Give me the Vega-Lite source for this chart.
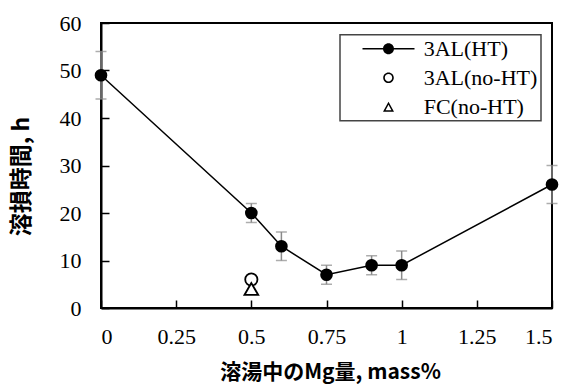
{
  "$schema": "https://vega.github.io/schema/vega-lite/v6.json",
  "width": 451,
  "height": 285,
  "autosize": {"type": "none"},
  "padding": {"left": 101, "top": 23, "right": 17, "bottom": 77},
  "background": "white",
  "config": {
    "view": {"stroke": "black", "strokeWidth": 2},
    "axis": {
      "domainColor": "black", "domainWidth": 2,
      "tickColor": "black", "tickWidth": 1.5, "tickSize": -8,
      "grid": false,
      "labelFont": "Liberation Serif", "labelFontSize": 22, "labelColor": "black",
      "titleFont": "Noto Sans CJK JP", "titleFontWeight": "bold", "titleColor": "black"
    },
    "legend": {"strokeWidth": 1.5}
  },
  "data": {
    "values": [
      {"mg": 0, "h": 49, "lo": 44, "hi": 54, "series": "3AL(HT)"},
      {"mg": 0.5, "h": 20, "lo": 18, "hi": 22, "series": "3AL(HT)"},
      {"mg": 0.6, "h": 13, "lo": 10, "hi": 16, "series": "3AL(HT)"},
      {"mg": 0.75, "h": 7, "lo": 5, "hi": 9, "series": "3AL(HT)"},
      {"mg": 0.9, "h": 9, "lo": 7, "hi": 11, "series": "3AL(HT)"},
      {"mg": 1.0, "h": 9, "lo": 6, "hi": 12, "series": "3AL(HT)"},
      {"mg": 1.5, "h": 26, "lo": 22, "hi": 30, "series": "3AL(HT)"},
      {"mg": 0.5, "h": 6, "series": "3AL(no-HT)"},
      {"mg": 0.5, "h": 4, "series": "FC(no-HT)"}
    ]
  },
  "encoding": {
    "x": {
      "field": "mg", "type": "quantitative",
      "scale": {"domain": [0, 1.5], "nice": false, "zero": false},
      "axis": {
        "values": [0, 0.25, 0.5, 0.75, 1, 1.25, 1.5],
        "labelExpr": "format(datum.value, '~g')",
        "labelFont": "Liberation Serif", "labelFontSize": 22,
        "labelPadding": 26, "title": "溶湯中のMg量, mass%", "titleFontSize": 21,
        "titleX": 229, "titleY": 64, "titleBaseline": "middle", "titleAlign": "center"
      }
    }
  },
  "layer": [
    {
      "transform": [{"filter": "datum.series === '3AL(HT)'"}],
      "mark": {"type": "errorbar", "ticks": {"size": 11}, "color": "#8a8a8a", "thickness": 1.5},
      "encoding": {
        "y": {
          "field": "lo", "type": "quantitative",
          "scale": {"domain": [0, 60], "nice": false},
          "axis": {
            "values": [0, 10, 20, 30, 40, 50, 60], "labelPadding": 28,
            "labelFont": "Liberation Serif", "labelFontSize": 22,
            "title": "溶損時間, h", "titleFontSize": 23,
            "titleX": -80, "titleY": 153, "titleBaseline": "middle", "titleAlign": "center"
          }
        },
        "y2": {"field": "hi"}
      }
    },
    {
      "transform": [{"filter": "datum.series === '3AL(HT)'"}],
      "mark": {"type": "line", "color": "black", "strokeWidth": 1.5},
      "encoding": {
        "y": {"field": "h", "type": "quantitative", "axis": {"title": "溶損時間, h"}}
      }
    },
    {
      "transform": [{"filter": "datum.series === '3AL(HT)'"}],
      "mark": {"type": "point", "shape": "circle", "filled": true, "fill": "black", "stroke": "black", "strokeWidth": 0, "size": 160, "opacity": 1},
      "encoding": {
        "y": {"field": "h", "type": "quantitative", "axis": {"title": "溶損時間, h"}}
      }
    },
    {
      "transform": [{"filter": "datum.series === '3AL(no-HT)'"}],
      "mark": {"type": "point", "shape": "circle", "filled": false, "fill": "white", "fillOpacity": 1, "stroke": "black", "strokeWidth": 1.8, "size": 150, "opacity": 1},
      "encoding": {
        "y": {"field": "h", "type": "quantitative", "axis": {"title": "溶損時間, h"}}
      }
    },
    {
      "transform": [{"filter": "datum.series === 'FC(no-HT)'"}],
      "mark": {"type": "point", "shape": "triangle-up", "filled": false, "fill": "white", "fillOpacity": 1, "stroke": "black", "strokeWidth": 1.8, "size": 190, "opacity": 1},
      "encoding": {
        "y": {"field": "h", "type": "quantitative", "axis": {"title": "溶損時間, h"}}
      }
    },
    {
      "mark": {"type": "point", "filled": true, "fill": "black", "strokeWidth": 0, "opacity": 0, "size": 100},
      "encoding": {
        "y": {"field": "h", "type": "quantitative", "axis": {"title": "溶損時間, h"}},
        "shape": {
          "field": "series", "type": "nominal",
          "scale": {
            "domain": ["3AL(HT)", "3AL(no-HT)", "FC(no-HT)"],
            "range": [
              "M1.1,0A1.1,1.1 0 1,1 -1.1,0A1.1,1.1 0 1,1 1.1,0Z M-5.2,-0.15H5.2V0.15H-5.2Z",
              "M1.06,0A1.06,1.06 0 1,1 -1.06,0A1.06,1.06 0 1,1 1.06,0Z M0.74,0A0.74,0.74 0 1,0 -0.74,0A0.74,0.74 0 1,0 0.74,0Z",
              "M0,-1L1.1,1L-1.1,1Z M0,-0.377L-0.592,0.7L0.592,0.7Z"
            ]
          },
          "legend": {
            "orient": "none", "legendX": 239, "legendY": 11.7,
            "title": null, "padding": 3,
            "strokeColor": "#444",
            "symbolSize": 100, "symbolStrokeWidth": 0, "symbolOpacity": 1,
            "symbolFillColor": "black",
            "symbolOffset": 34.5, "labelOffset": 24.2,
            "rowPadding": 7,
            "labelFont": "Liberation Serif", "labelFontSize": 22, "labelColor": "black",
            "labelExpr": "datum.label + '\u00a0\u00a0'"
          }
        }
      }
    }
  ]
}
